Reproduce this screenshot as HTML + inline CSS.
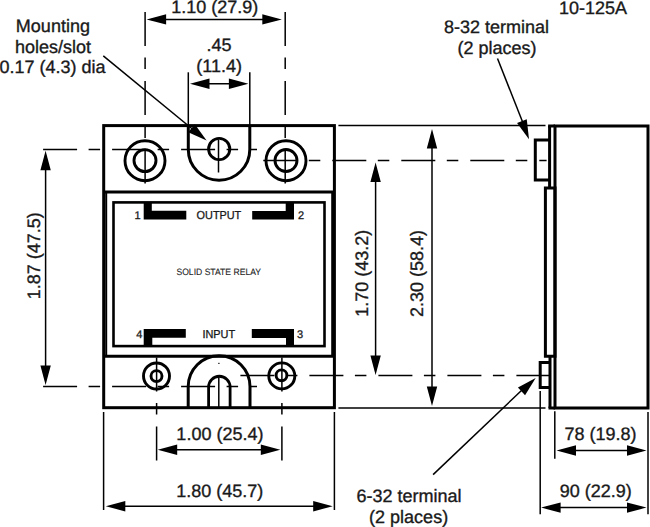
<!DOCTYPE html>
<html><head><meta charset="utf-8"><style>
html,body{margin:0;padding:0;background:#fff;}
svg{display:block;}
</style></head><body>
<svg width="650" height="527" viewBox="0 0 650 527">
<rect width="650" height="527" fill="#fff"/>
<g stroke="#000" fill="none" stroke-linecap="butt">
<line x1="151.6" y1="19.4" x2="276.8" y2="19.4" stroke-width="1.5"/>
<polygon points="146.60,19.40 166.10,14.20 166.10,24.60" fill="#000" stroke="none"/>
<polygon points="281.80,19.40 262.30,24.60 262.30,14.20" fill="#000" stroke="none"/>
<line x1="145.1" y1="11.9" x2="145.1" y2="183.6" stroke-width="1.5" stroke-dasharray="34 11.5 11.5 12"/>
<line x1="285.2" y1="11.9" x2="285.2" y2="183.6" stroke-width="1.5" stroke-dasharray="34 11.5 11.5 12"/>
<line x1="195" y1="83.8" x2="243.4" y2="83.8" stroke-width="1.5"/>
<polygon points="190.00,83.80 209.50,78.60 209.50,89.00" fill="#000" stroke="none"/>
<polygon points="248.40,83.80 228.90,89.00 228.90,78.60" fill="#000" stroke="none"/>
<line x1="188.3" y1="72.3" x2="188.3" y2="126" stroke-width="1.5"/>
<line x1="249.8" y1="72.3" x2="249.8" y2="126" stroke-width="1.5"/>
<line x1="103.3" y1="55.9" x2="196" y2="132" stroke-width="1.5"/>
<polygon points="206.60,140.60 188.22,132.26 194.82,124.21" fill="#000" stroke="none"/>
<line x1="43.1" y1="149.4" x2="257" y2="149.4" stroke-width="1.5" stroke-dasharray="34 11.5 11.5 12"/>
<line x1="43.1" y1="386.6" x2="257" y2="386.6" stroke-width="1.5" stroke-dasharray="34 11.5 11.5 12"/>
<line x1="263.3" y1="160.5" x2="546.6" y2="160.5" stroke-width="1.5" stroke-dasharray="34 11.5 11.5 12"/>
<line x1="240.4" y1="375.6" x2="549" y2="375.6" stroke-width="1.5" stroke-dasharray="34 11.5 11.5 12"/>
<line x1="45.6" y1="155.8" x2="45.6" y2="380.1" stroke-width="1.5"/>
<polygon points="45.60,150.80 50.80,170.30 40.40,170.30" fill="#000" stroke="none"/>
<polygon points="45.60,385.10 40.40,365.60 50.80,365.60" fill="#000" stroke="none"/>
<line x1="375.6" y1="167.4" x2="375.6" y2="370.0" stroke-width="1.5"/>
<polygon points="375.60,162.40 380.80,181.90 370.40,181.90" fill="#000" stroke="none"/>
<polygon points="375.60,375.00 370.40,355.50 380.80,355.50" fill="#000" stroke="none"/>
<line x1="432.0" y1="134.0" x2="432.0" y2="401.0" stroke-width="1.5"/>
<polygon points="432.00,129.00 437.20,148.50 426.80,148.50" fill="#000" stroke="none"/>
<polygon points="432.00,406.00 426.80,386.50 437.20,386.50" fill="#000" stroke="none"/>
<line x1="338.4" y1="125.5" x2="545.5" y2="125.5" stroke-width="1.5"/>
<line x1="338.4" y1="408" x2="545.5" y2="408" stroke-width="1.5"/>
<line x1="497.5" y1="58.5" x2="523" y2="123" stroke-width="1.5"/>
<polygon points="529.00,139.20 517.07,122.93 526.75,119.14" fill="#000" stroke="none"/>
<line x1="433.1" y1="474.6" x2="522" y2="390" stroke-width="1.5"/>
<polygon points="535.70,378.00 525.07,395.15 517.94,387.58" fill="#000" stroke="none"/>
<line x1="218.5" y1="139.9" x2="218.5" y2="172.5" stroke-width="1.5"/>
<line x1="156.6" y1="357.6" x2="156.6" y2="460.5" stroke-width="1.5" stroke-dasharray="34 11.5 11.5 12"/>
<line x1="281.9" y1="357.6" x2="281.9" y2="460.5" stroke-width="1.5" stroke-dasharray="34 11.5 11.5 12"/>
<line x1="218.8" y1="377" x2="218.8" y2="408" stroke-width="1.5"/>
<line x1="103.6" y1="412" x2="103.6" y2="510" stroke-width="1.5"/>
<line x1="334.4" y1="412" x2="334.4" y2="510" stroke-width="1.5"/>
<line x1="162.7" y1="449.8" x2="275.3" y2="449.8" stroke-width="1.5"/>
<polygon points="157.70,449.80 177.20,444.60 177.20,455.00" fill="#000" stroke="none"/>
<polygon points="280.30,449.80 260.80,455.00 260.80,444.60" fill="#000" stroke="none"/>
<line x1="110.8" y1="506.2" x2="327.7" y2="506.2" stroke-width="1.5"/>
<polygon points="105.80,506.20 125.30,501.00 125.30,511.40" fill="#000" stroke="none"/>
<polygon points="332.70,506.20 313.20,511.40 313.20,501.00" fill="#000" stroke="none"/>
<line x1="540.2" y1="391" x2="540.2" y2="514.3" stroke-width="1.5"/>
<line x1="554.8" y1="411.3" x2="554.8" y2="458.8" stroke-width="1.5"/>
<line x1="648" y1="411.9" x2="648" y2="514.3" stroke-width="1.5"/>
<line x1="561.5" y1="450.5" x2="641.5" y2="450.5" stroke-width="1.5"/>
<polygon points="556.50,450.50 576.00,445.30 576.00,455.70" fill="#000" stroke="none"/>
<polygon points="646.50,450.50 627.00,455.70 627.00,445.30" fill="#000" stroke="none"/>
<line x1="546.1" y1="507.6" x2="641.5" y2="507.6" stroke-width="1.5"/>
<polygon points="541.10,507.60 560.60,502.40 560.60,512.80" fill="#000" stroke="none"/>
<polygon points="646.50,507.60 627.00,512.80 627.00,502.40" fill="#000" stroke="none"/>
</g>
<g stroke="#000" fill="none">
<rect x="103.7" y="125.6" width="230.7" height="282.1" stroke-width="3"/>
<line x1="103.7" y1="192" x2="334.4" y2="192" stroke-width="3"/>
<line x1="103.7" y1="356.2" x2="334.4" y2="356.2" stroke-width="3"/>
<line x1="106.2" y1="192" x2="106.2" y2="356.2" stroke-width="2"/>
<line x1="332.2" y1="192" x2="332.2" y2="356.2" stroke-width="2"/>
<rect x="113.5" y="202.4" width="211" height="143.7" stroke-width="2.6"/>
<path d="M188.3,125.6 V149.5 A30.75,30.75 0 0 0 249.8,149.5 V125.6" stroke-width="3"/>
<path d="M188.2,407.7 V386.6 A30.9,30.9 0 0 1 250,386.6 V407.7" stroke-width="3"/>
<path d="M208.6,407.7 V387 A10.75,10.75 0 0 1 230.1,387 V407.7" stroke-width="2.8"/>
<circle cx="145" cy="160.7" r="20" stroke-width="2.9"/>
<circle cx="145" cy="160.6" r="11" stroke-width="2.9"/>
<circle cx="286" cy="160.7" r="20" stroke-width="2.9"/>
<circle cx="286" cy="160.5" r="11" stroke-width="2.9"/>
<circle cx="219.2" cy="149" r="10.6" stroke-width="2.9"/>
<circle cx="156.5" cy="376" r="13" stroke-width="2.9"/>
<circle cx="156.5" cy="376.1" r="5.5" stroke-width="2.9"/>
<circle cx="281.8" cy="375.9" r="13" stroke-width="2.9"/>
<circle cx="281.5" cy="375.3" r="5.4" stroke-width="2.9"/>
<path d="M555,126 H648 V408 H555 Z" stroke-width="3"/>
<path d="M549.6,126 V188 M550,356.2 V408" stroke-width="3"/>
<path d="M545.4,188 H555 V356.2 H545.4 Z" stroke-width="3"/>
<line x1="548.1" y1="126" x2="555" y2="126" stroke-width="3"/>
<line x1="548.5" y1="408" x2="555" y2="408" stroke-width="3"/>
<path d="M549.6,139.9 H535.3 V180 H549.6" stroke-width="3"/>
<path d="M550,362.6 H540.2 V387.6 H550" stroke-width="3"/>
</g>
<g fill="#000">
<path d="M143.7,202.4 H151.8 V210.8 H186.3 V219.4 H143.7 Z"/>
<path d="M252.2,211 H285.7 V202.4 H294 V219.4 H252.2 Z"/>
<path d="M143.7,329 H185.8 V337.8 H152.3 V346 H143.7 Z"/>
<path d="M251.8,329.1 H294 V346 H286 V337.9 H251.8 Z"/>
<rect x="218.3" y="362.8" width="1.2" height="1.2"/>
</g>
<g font-family="Liberation Sans, sans-serif" text-rendering="geometricPrecision">
<text transform="translate(171.27,13.00)" font-size="18" fill="#1a1a1a" stroke="#1a1a1a" stroke-width="0.35">1.10 (27.9)</text>
<text transform="translate(206.57,51.00)" font-size="18" fill="#1a1a1a" stroke="#1a1a1a" stroke-width="0.35">.45</text>
<text transform="translate(196.36,72.00)" font-size="18" fill="#1a1a1a" stroke="#1a1a1a" stroke-width="0.35">(11.4)</text>
<text transform="translate(15.86,32.40)" font-size="18" fill="#1a1a1a" stroke="#1a1a1a" stroke-width="0.35">Mounting</text>
<text transform="translate(15.06,53.00)" font-size="18" fill="#1a1a1a" stroke="#1a1a1a" stroke-width="0.35">holes/slot</text>
<text transform="translate(-0.52,73.00)" font-size="18" fill="#1a1a1a" stroke="#1a1a1a" stroke-width="0.35">0.17 (4.3) dia</text>
<text transform="translate(558.90,13.80)" font-size="18" fill="#1a1a1a" stroke="#1a1a1a" stroke-width="0.35">10-125A</text>
<text transform="translate(443.99,33.00)" font-size="18" fill="#1a1a1a" stroke="#1a1a1a" stroke-width="0.35">8-32 terminal</text>
<text transform="translate(457.54,54.00)" font-size="18" fill="#1a1a1a" stroke="#1a1a1a" stroke-width="0.35">(2 places)</text>
<text transform="translate(39.70,299.23) rotate(-90)" font-size="18" fill="#1a1a1a" stroke="#1a1a1a" stroke-width="0.35">1.87 (47.5)</text>
<text transform="translate(368.00,316.78) rotate(-90)" font-size="18" fill="#1a1a1a" stroke="#1a1a1a" stroke-width="0.35">1.70 (43.2)</text>
<text transform="translate(423.10,317.05) rotate(-90)" font-size="18" fill="#1a1a1a" stroke="#1a1a1a" stroke-width="0.35">2.30 (58.4)</text>
<text transform="translate(176.37,440.00)" font-size="18" fill="#1a1a1a" stroke="#1a1a1a" stroke-width="0.35">1.00 (25.4)</text>
<text transform="translate(176.22,496.60)" font-size="18" fill="#1a1a1a" stroke="#1a1a1a" stroke-width="0.35">1.80 (45.7)</text>
<text transform="translate(564.42,439.80)" font-size="18" fill="#1a1a1a" stroke="#1a1a1a" stroke-width="0.35">78 (19.8)</text>
<text transform="translate(559.76,497.40)" font-size="18" fill="#1a1a1a" stroke="#1a1a1a" stroke-width="0.35">90 (22.9)</text>
<text transform="translate(356.52,502.00)" font-size="18" fill="#1a1a1a" stroke="#1a1a1a" stroke-width="0.35">6-32 terminal</text>
<text transform="translate(369.09,522.60)" font-size="18" fill="#1a1a1a" stroke="#1a1a1a" stroke-width="0.35">(2 places)</text>
<text transform="translate(134.40,218.90)" font-size="11" fill="#1a1a1a" stroke="#1a1a1a" stroke-width="0.3">1</text>
<text transform="translate(297.90,218.70)" font-size="11" fill="#1a1a1a" stroke="#1a1a1a" stroke-width="0.3">2</text>
<text transform="translate(136.28,337.70)" font-size="11" fill="#1a1a1a" stroke="#1a1a1a" stroke-width="0.3">4</text>
<text transform="translate(297.12,337.70)" font-size="11" fill="#1a1a1a" stroke="#1a1a1a" stroke-width="0.3">3</text>
<text transform="translate(196.58,218.90) scale(0.9449,1)" font-size="11.5" fill="#1a1a1a" stroke="#1a1a1a" stroke-width="0.3">OUTPUT</text>
<text transform="translate(202.39,337.80) scale(0.9494,1)" font-size="11.5" fill="#1a1a1a" stroke="#1a1a1a" stroke-width="0.3">INPUT</text>
<text transform="translate(176.41,275.00) scale(0.9368,1)" font-size="9.2" fill="#222" stroke="#222" stroke-width="0.1">SOLID STATE RELAY</text>
</g>
</svg>
</body></html>
